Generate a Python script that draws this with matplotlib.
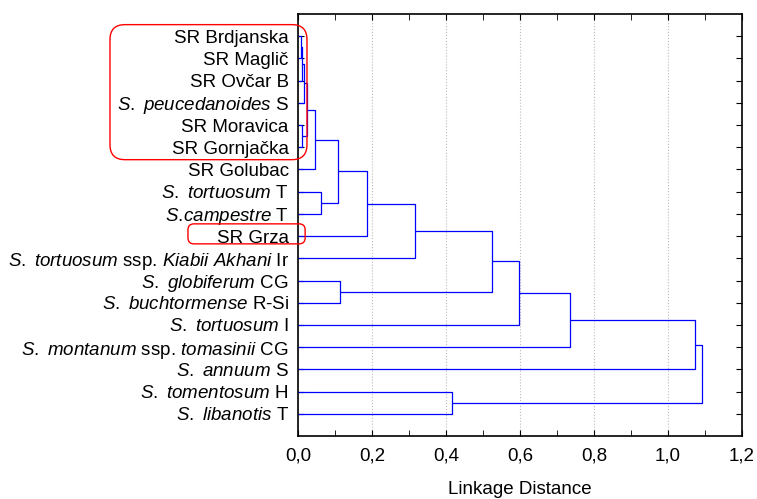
import matplotlib
matplotlib.use("Agg")
import matplotlib.pyplot as plt
from matplotlib.patches import FancyBboxPatch
from matplotlib.transforms import IdentityTransform

plt.rcParams['font.family'] = ['Liberation Sans', 'DejaVu Sans']
plt.rcParams['mathtext.fontset'] = 'custom'
plt.rcParams['mathtext.rm'] = 'Liberation Sans'
plt.rcParams['mathtext.it'] = 'Liberation Sans:italic'

# leaves, top to bottom (dendrogram order)
labels = [
    "SR Brdjanska",
    "SR Maglič",
    "SR Ovčar B",
    r"$\mathit{S.\ peucedanoides}$ S",
    "SR Moravica",
    "SR Gornjačka",
    "SR Golubac",
    r"$\mathit{S.\ tortuosum}$ T",
    r"$\mathit{S.\!campestre}$ T",
    "SR Grza",
    r"$\mathit{S.\ tortuosum}$ ssp. $\mathit{Kiabii\ Akhani}$ Ir",
    r"$\mathit{S.\ globiferum}$ CG",
    r"$\mathit{S.\ buchtormense}$ R-Si",
    r"$\mathit{S.\ tortuosum}$ I",
    r"$\mathit{S.\ montanum}$ ssp. $\mathit{tomasinii}$ CG",
    r"$\mathit{S.\ annuum}$ S",
    r"$\mathit{S.\ tomentosum}$ H",
    r"$\mathit{S.\ libanotis}$ T",
]

# linkage: new cluster ids start at len(labels)
left_child = [0, 18, 19, 4, 20, 22, 7, 23, 25, 26, 11, 27, 29, 30, 31, 16, 32]
right_child = [1, 2, 3, 5, 21, 6, 8, 24, 9, 10, 12, 28, 13, 14, 15, 17, 33]
distance = [0.006, 0.010, 0.014, 0.009, 0.024, 0.046, 0.060, 0.108, 0.186,
            0.315, 0.112, 0.524, 0.597, 0.734, 1.074, 0.415, 1.093]

xticks = [0.0, 0.2, 0.4, 0.6, 0.8, 1.0, 1.2]
xticklabels = ["0,0", "0,2", "0,4", "0,6", "0,8", "1,0", "1,2"]
minor_ticks = [0.1, 0.3, 0.5, 0.7, 0.9, 1.1]

fig = plt.figure(figsize=(7.57, 4.99), dpi=100)
ax = fig.add_axes([0.3943, 0.1263, 0.5859, 0.8457])

pos = list(range(len(labels)))
height = [0.0] * len(labels)
for a, b, d in zip(left_child, right_child, distance):
    ax.plot([height[a], d, d, height[b]], [pos[a], pos[a], pos[b], pos[b]],
            color='#0000ff', lw=0.9, solid_capstyle='butt')
    pos.append((pos[a] + pos[b]) / 2)
    height.append(d)

ax.set_xlim(0, 1.2)
ax.set_ylim(18, -1)
ax.set_xticks(xticks)
ax.set_xticklabels(xticklabels, fontsize=13.5)
ax.set_xticks(minor_ticks, minor=True)
ax.set_yticks(range(len(labels)))
ax.set_yticklabels(labels, fontsize=13.5)
ax.tick_params(axis='x', which='both', direction='in', top=True, bottom=True, length=4, pad=8.5)
ax.tick_params(axis='y', direction='in', left=True, right=True, length=4, pad=7)
ax.set_xlabel("Linkage Distance", fontsize=13.5, labelpad=12)
ax.grid(axis='x', which='major', linestyle=':', color='#bbbbbb', lw=0.8)
ax.set_axisbelow(True)
for s in ax.spines.values():
    s.set_linewidth(1.2)

# red highlight boxes (x in data units, y in rows)
boxes = [(-0.51, 0.023, -0.52, 5.56, 15), (-0.299, 0.018, 8.45, 9.35, 6)]
for x0, x1, y0, y1, r in boxes:
    (px0, py0) = ax.transData.transform((x0, y1))
    (px1, py1) = ax.transData.transform((x1, y0))
    fig.add_artist(FancyBboxPatch((px0, py0), px1 - px0, py1 - py0,
                                  boxstyle="round,pad=0,rounding_size=%d" % r,
                                  fill=False, ec='red', lw=1.0,
                                  transform=IdentityTransform()))

fig.savefig("out.png", dpi=100)
